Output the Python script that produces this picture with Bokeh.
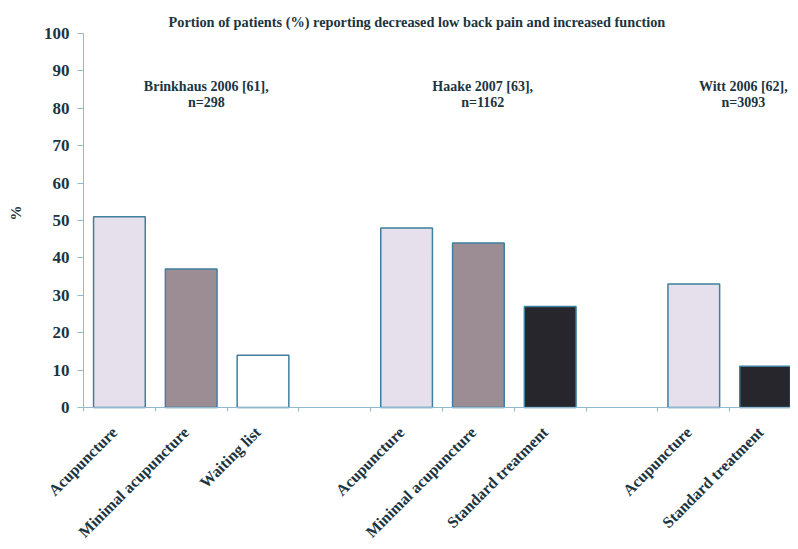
import math
from bokeh.plotting import figure
from bokeh.models import Range1d, FixedTicker, ColumnDataSource
from bokeh.core.properties import value
from bokeh.embed import file_html
from bokeh.resources import INLINE

# ---- data ----
slot_labels = ["Acupuncture", "Minimal acupuncture", "Waiting list", "",
               "Acupuncture", "Minimal acupuncture", "Standard treatment", "",
               "Acupuncture", "Standard treatment"]
slot_values = [51, 37, 14, None, 48, 44, 27, None, 33, 11]
studies = ["Brinkhaus 2006 [61],", "Haake 2007 [63],", "Witt 2006 [62],"]
study_n = ["n=298", "n=1162", "n=3093"]
y_ticks = [0, 10, 20, 30, 40, 50, 60, 70, 80, 90, 100]
y_title = "%"
title_text = "Portion of patients (%) reporting decreased low back pain and increased function"

fill_map = {"Acupuncture": "#e5e0ec", "Minimal acupuncture": "#9c8c94",
            "Waiting list": "#ffffff", "Standard treatment": "#26262c"}

xs, tops, fills, labs = [], [], [], []
for i, (lab, v) in enumerate(zip(slot_labels, slot_values)):
    if v is None:
        continue
    xs.append(i)
    tops.append(v)
    fills.append(fill_map[lab])
    labs.append(lab)
src = ColumnDataSource(dict(x=xs, top=tops, fill=fills, lab=labs, base=[0] * len(xs)))

TEXT = "#1b3541"
AXIS = "#8fbad0"
FONT = "Liberation Serif"

PX = 71.8                      # pixels per category slot
PY = 3.74                      # pixels per percentage point
X0 = -0.5                      # left edge of first slot, where the y axis sits
XL = X0 - 83 / PX              # frame covers the whole canvas
XR = XL + 790 / PX
YB = -(541 - 407) / PY
YT = 100 + 33 / PY

p = figure(width=790, height=541, output_backend="svg", toolbar_location=None,
           x_range=Range1d(XL, XR), y_range=Range1d(YB, YT),
           min_border_left=0, min_border_right=0, min_border_top=0, min_border_bottom=0)
p.outline_line_color = None
p.xgrid.visible = False
p.ygrid.visible = False

p.vbar(x="x", top="top", width=0.72, source=src, fill_color="fill",
       line_color="#3f7f9f", line_width=1.5)

# category labels, rotated 45 degrees below the axis
p.text(x="x", y="base", text="lab", source=src, angle=math.pi / 4,
       text_align="right", text_baseline="middle", x_offset=-5, y_offset=22,
       text_font=value(FONT), text_font_style="bold", text_font_size="16px", text_color=TEXT)

# x axis at zero, small ticks at slot boundaries
p.xaxis.fixed_location = 0
p.xaxis.bounds = (X0, XR)
p.xaxis.ticker = FixedTicker(ticks=[], minor_ticks=[i + X0 for i in range(len(slot_labels) + 1)])
p.xaxis.major_tick_out = 0
p.xaxis.major_tick_in = 0
p.xaxis.minor_tick_out = 4
p.xaxis.minor_tick_in = 0
p.xaxis.minor_tick_line_color = AXIS
p.xaxis.axis_line_color = AXIS

# y axis at the left edge of the first slot
p.yaxis.fixed_location = X0
p.yaxis.bounds = (0, 100)
p.yaxis.ticker = FixedTicker(ticks=y_ticks)
p.yaxis.minor_tick_line_color = None
p.yaxis.major_tick_out = 6
p.yaxis.major_tick_in = 0
p.yaxis.major_tick_line_color = AXIS
p.yaxis.axis_line_color = AXIS
p.yaxis.major_label_standoff = 8
p.yaxis.major_label_text_font = FONT
p.yaxis.major_label_text_font_style = "bold"
p.yaxis.major_label_text_font_size = "17px"
p.yaxis.major_label_text_color = TEXT

# chart title
p.text(x=[XL + 168 / PX], y=[YT - 21 / PY], text=[title_text],
       text_align="left", text_baseline="middle",
       text_font=value(FONT), text_font_style="bold", text_font_size="14.3px", text_color=TEXT)

# y axis title
p.text(x=[XL + 15 / PX], y=[52], text=[y_title], angle=math.pi / 2,
       text_align="center", text_baseline="middle",
       text_font=value(FONT), text_font_style="bold", text_font_size="15px", text_color=TEXT)

# study annotations
sx = [1.21, 5.06, 8.69]
p.text(x=sx, y=[85.8] * 3, text=studies, text_align="center", text_baseline="middle",
       text_font=value(FONT), text_font_style="bold", text_font_size="14px", text_color=TEXT)
p.text(x=sx, y=[81.5] * 3, text=study_n, text_align="center", text_baseline="middle",
       text_font=value(FONT), text_font_style="bold", text_font_size="14px", text_color=TEXT)

open("out.html", "w").write(file_html(p, INLINE))
